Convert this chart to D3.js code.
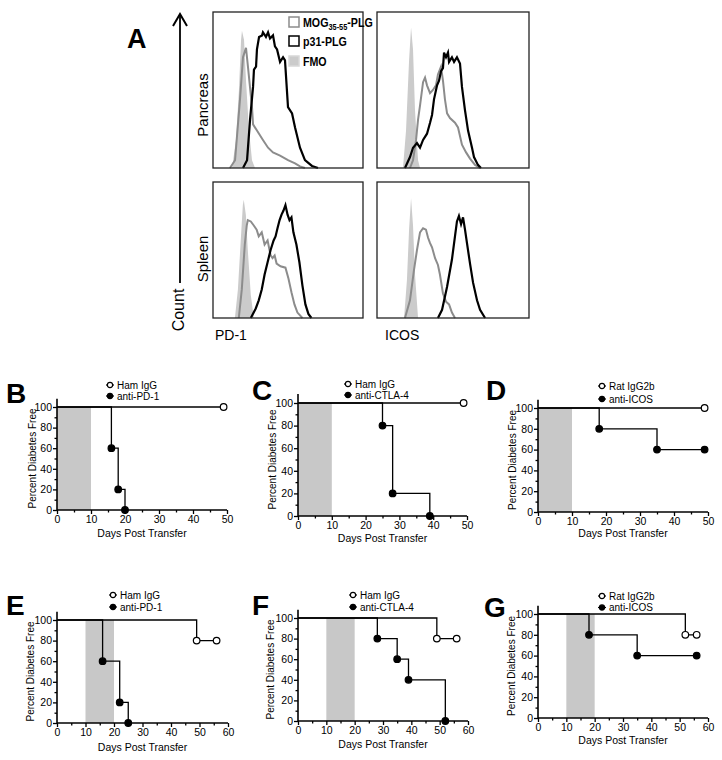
<!DOCTYPE html>
<html>
<head>
<meta charset="utf-8">
<script src="https://cdn.jsdelivr.net/npm/d3@7"></script>
<style>
  body { margin: 0; background: #fff; }
  svg { display: block; font-family: "Liberation Sans", Arial, sans-serif; }
</style>
</head>
<body>
<svg id="fig" width="722" height="760"></svg>
<script>
// Panel A histograms: [fluorescence channel, % of max]
const pancPd1Fmo = [[12.7,0],[15.3,18],[17.3,50],[18.7,82],[19.3,88],[20.7,82],[22,56],[24,24],[26,5],[28,0]];
const pancPd1Mog = [[11.3,0],[14.7,5],[18,44],[20,71],[22,77],[23.3,65],[26,39],[26.7,28],[29.3,24],[33.3,18],[36.7,13],[40,10],[44.7,8],[50,5],[54.7,3],[58,1],[61.3,0]];
const pancPd1P31 = [[20,0],[22.7,5],[24.7,31],[26.7,52],[27.3,63],[28.7,65],[29.3,76],[30.7,84],[32.7,85],[33.3,87],[35.3,84],[36.7,87],[38,83],[40,85],[41.3,78],[42.7,76],[44.7,68],[46.7,71],[48,69],[50,39],[52.7,35],[54.7,26],[58,13],[61.3,5],[66,1.3],[70,0]];

const pancIcosFmo = [[17.1,0],[19.1,24],[21.1,69],[22.4,90],[23.7,76],[25,37],[27,5],[28.3,0]];
const pancIcosMog = [[21.7,0],[23.7,5],[25.7,18],[27,31],[28.3,40],[30.3,55],[31.6,58],[32.9,53],[34.9,48],[36.8,50],[38.8,53],[40.1,60],[42.1,65],[43.4,56],[44.7,44],[46.1,35],[48,32],[51.3,29],[53.3,26],[55.9,15],[58.6,10],[61.2,6],[64.5,2],[67.8,0]];
const pancIcosP31 = [[18.4,0],[21.7,7],[23.7,13],[26.3,16],[28.3,13],[30.3,18],[32.9,22],[34.9,29],[36.2,34],[37.5,44],[39.5,53],[40.8,56],[42.1,62],[43.4,64],[44.1,74],[45.4,71],[46.7,74],[47.4,68],[49.3,71],[50.7,68],[52.6,71],[54.6,67],[55.9,52],[57.9,37],[59.9,24],[62.5,13],[63.8,7],[66.4,2],[68.4,0]];

const splPd1Fmo = [[14.6,0],[16.6,21],[18.5,57],[19.9,83],[20.5,87],[21.9,76],[23.2,50],[25.2,17],[27.2,0]];
const splPd1Mog = [[17.2,0],[19.2,21],[21.2,54],[22.5,68],[23.2,72],[25.2,71],[27.2,68],[29.1,65],[30.5,60],[32.5,63],[34.4,54],[36.4,57],[38.4,46],[39.7,44],[41.1,46],[42.4,40],[45,38],[48.3,37],[50.3,29],[52.3,19],[54.3,10],[56.3,4],[59.6,0]];
const splPd1P31 = [[25.2,0],[28.5,7],[30.5,13],[32.5,21],[34.4,32],[36.4,41],[38.4,50],[40.4,57],[41.7,60],[43,66],[44.4,72],[45.7,76],[47,79],[48.3,83],[49.7,76],[51,72],[52.3,74],[53.6,63],[55.6,54],[57.6,41],[59.6,24],[61.6,10],[63.6,3],[65.6,0]];

const splIcosFmo = [[17.8,0],[19.7,28],[21.1,65],[22.4,88],[23.7,68],[25,32],[27,0]];
const splIcosMog = [[18.4,0],[21.7,13],[24.3,35],[26.3,50],[28.3,63],[30.3,66],[32.2,65],[33.6,59],[34.9,55],[36.2,52],[38.2,44],[40.1,39],[41.4,32],[43.4,18],[45.4,12],[47.4,10],[49.3,4],[51.3,0]];
const splIcosP31 = [[40.1,0],[42.8,6],[46.1,23],[49.3,43],[51.3,60],[52.6,71],[53.9,75],[55.3,69],[56.6,74],[57.9,65],[59.2,55],[61.2,40],[63.2,26],[65.8,13],[67.8,6],[71.1,0]];

// Panels B-G survival steps: [day, percent diabetes free]
const bHamIgG = [[0,100],[49,100]];
const bAntiPd1 = [[0,100],[16,60],[18,20],[20,0]];
const cHamIgG = [[0,100],[49,100]];
const cAntiCtla4 = [[0,100],[25,80],[28,20],[39,0]];
const dRatIgG2b = [[0,100],[49,100]];
const dAntiIcos = [[0,100],[18,80],[35,60],[49,60]];
const eHamIgG = [[0,100],[49,80],[56,80]];
const eAntiPd1 = [[0,100],[16,60],[22,20],[25,0]];
const fHamIgG = [[0,100],[49,80],[56,80]];
const fAntiCtla4 = [[0,100],[28,80],[35,60],[39,40],[52,0]];
const gRatIgG2b = [[0,100],[52,80],[56,80]];
const gAntiIcos = [[0,100],[18,80],[35,60],[56,60]];

const percentTicks = [0, 20, 40, 60, 80, 100];
const dayTicks50 = [0, 10, 20, 30, 40, 50];
const dayTicks60 = [0, 10, 20, 30, 40, 50, 60];
const earlyWindow = [0, 10];
const lateWindow = [10, 20];

const svg = d3.select('#fig');
const gray = '#8c8c8c';
const fmoGray = '#cbcbcb';

// ---------- Panel A ----------
const drawHist = (arg) => {
  let x = d3.scaleLinear().domain([0, 100]).range([arg.left, arg.right]);
  let y = d3.scaleLinear().domain([0, 100]).range([arg.bottom, arg.top]);
  let g = svg.append('g');

  g.append('path')
    .attr('d', d3.area().x(d => x(d[0])).y0(y(0)).y1(d => y(d[1]))(arg.fmo))
    .style('fill', fmoGray);

  let line = d3.line().x(d => x(d[0])).y(d => y(d[1]));
  g.append('path')
    .attr('d', line(arg.mog))
    .style('fill', 'none')
    .style('stroke', gray)
    .style('stroke-width', 2);
  g.append('path')
    .attr('d', line(arg.p31))
    .style('fill', 'none')
    .style('stroke', '#000')
    .style('stroke-width', 2.2);

  g.append('rect')
    .attr('x', arg.left)
    .attr('y', arg.top)
    .attr('width', arg.right - arg.left)
    .attr('height', arg.bottom - arg.top)
    .style('fill', 'none')
    .style('stroke', '#222')
    .style('stroke-width', 1.3);
}

drawHist({left: 213, right: 363, top: 12, bottom: 168, fmo: pancPd1Fmo, mog: pancPd1Mog, p31: pancPd1P31});
drawHist({left: 377, right: 529, top: 12, bottom: 168, fmo: pancIcosFmo, mog: pancIcosMog, p31: pancIcosP31});
drawHist({left: 213, right: 363, top: 182, bottom: 318, fmo: splPd1Fmo, mog: splPd1Mog, p31: splPd1P31});
drawHist({left: 377, right: 529, top: 182, bottom: 318, fmo: splIcosFmo, mog: splIcosMog, p31: splIcosP31});

svg.append('text')
  .attr('x', 127).attr('y', 48)
  .style('font-size', '27px').style('font-weight', 'bold')
  .text('A');

// Count arrow
svg.append('line')
  .attr('x1', 180).attr('x2', 180).attr('y1', 15).attr('y2', 283)
  .style('stroke', '#000').style('stroke-width', 1.8);
svg.append('path')
  .attr('d', 'M173,26L180,14L187,26')
  .style('fill', 'none').style('stroke', '#000').style('stroke-width', 2);

const rotLabel = (text, x, y, size) => {
  svg.append('text')
    .attr('transform', `translate(${x},${y}) rotate(-90)`)
    .attr('text-anchor', 'middle')
    .style('font-size', size)
    .text(text);
}
rotLabel('Count', 184, 310, '16px');
rotLabel('Pancreas', 208, 105, '15px');
rotLabel('Spleen', 208, 259, '15px');

svg.append('text').attr('x', 215).attr('y', 340).style('font-size', '14px').text('PD-1');
svg.append('text').attr('x', 385).attr('y', 340).style('font-size', '14px').text('ICOS');

// histogram legend
const legendA = [
  {y: 17, stroke: gray, fill: '#fff'},
  {y: 36, stroke: '#000', fill: '#fff'},
  {y: 56, stroke: '#d8d8d8', fill: fmoGray}
];
legendA.forEach(d => {
  svg.append('rect')
    .attr('x', 289).attr('y', d.y).attr('width', 10).attr('height', 10)
    .style('fill', d.fill).style('stroke', d.stroke).style('stroke-width', 1.5);
});
const legendText = (y) => svg.append('text')
  .attr('transform', `translate(303,${y}) scale(0.82,1)`)
  .style('font-size', '13px').style('font-weight', 'bold');
let mogText = legendText(27);
mogText.append('tspan').text('MOG');
mogText.append('tspan').attr('dy', 3).style('font-size', '9px').text('35-55');
mogText.append('tspan').attr('dy', -3).text('-PLG');
legendText(46).text('p31-PLG');
legendText(66).text('FMO');

// ---------- Panels B-G ----------
const drawKM = (arg) => {
  let x = d3.scaleLinear().domain([0, arg.xMax]).range([arg.left, arg.right]);
  let y = d3.scaleLinear().domain([0, 100]).range([arg.bottom, arg.top]);
  let g = svg.append('g');

  g.append('rect')
    .attr('x', x(arg.shade[0]))
    .attr('y', y(100))
    .attr('width', x(arg.shade[1]) - x(arg.shade[0]))
    .attr('height', y(0) - y(100))
    .style('fill', '#c8c8c8');

  let step = d3.line().curve(d3.curveStepAfter).x(d => x(d[0])).y(d => y(d[1]));
  arg.series.forEach(s => {
    g.append('path')
      .attr('d', step(s.data))
      .style('fill', 'none')
      .style('stroke', '#000')
      .style('stroke-width', 1.3);
  });

  // axes, major + minor ticks
  g.append('g')
    .attr('transform', `translate(${arg.left},0)`)
    .call(d3.axisLeft(y).tickValues(percentTicks).tickSize(4).tickPadding(1));
  g.append('g')
    .attr('transform', `translate(${arg.left},0)`)
    .call(d3.axisLeft(y).tickValues(d3.range(10, 100, 20)).tickSize(2.5).tickFormat(''));
  g.append('g')
    .attr('transform', `translate(0,${arg.bottom})`)
    .call(d3.axisBottom(x).tickValues(arg.xTicks).tickSize(4).tickPadding(2));
  g.append('g')
    .attr('transform', `translate(0,${arg.bottom})`)
    .call(d3.axisBottom(x).tickValues(d3.range(5, arg.xMax, 10)).tickSize(2.5).tickFormat(''));

  g.selectAll('.domain').remove();
  g.selectAll('.tick line').style('stroke', '#000').style('stroke-width', 1.3);
  g.selectAll('.tick text')
    .style('font-size', '10.5px')
    .style('font-family', '"Liberation Sans", Arial, sans-serif')
    .style('fill', '#000');

  g.append('line')
    .attr('x1', arg.left).attr('x2', arg.left)
    .attr('y1', y(0)).attr('y2', y(108))
    .style('stroke', '#000').style('stroke-width', 1.6);
  g.append('line')
    .attr('x1', arg.left).attr('x2', x(arg.xMax))
    .attr('y1', y(0)).attr('y2', y(0))
    .style('stroke', '#000').style('stroke-width', 1.6);

  // markers at each step
  arg.series.forEach(s => {
    g.selectAll(null)
      .data(s.data.slice(1))
      .enter()
      .append('circle')
      .attr('cx', d => x(d[0]))
      .attr('cy', d => y(d[1]))
      .attr('r', 3.3)
      .style('fill', s.open ? '#fff' : '#000')
      .style('stroke', '#000')
      .style('stroke-width', 1.2);
  });

  // legend
  arg.series.forEach((s, i) => {
    let ly = arg.legend[1] + i * arg.legendGap;
    g.append('line')
      .attr('x1', arg.legend[0] - 4).attr('x2', arg.legend[0] + 4)
      .attr('y1', ly).attr('y2', ly)
      .style('stroke', '#000').style('stroke-width', 1.2);
    g.append('circle')
      .attr('cx', arg.legend[0]).attr('cy', ly).attr('r', 2.6)
      .style('fill', s.open ? '#fff' : '#000')
      .style('stroke', '#000').style('stroke-width', 1.1);
    g.append('text')
      .attr('x', arg.legend[0] + 7).attr('y', ly + 3.5)
      .style('font-size', '10px')
      .text(s.name);
  });

  g.append('text')
    .attr('transform', `translate(${arg.yLabelX},${(y(0) + y(100)) / 2}) rotate(-90)`)
    .attr('text-anchor', 'middle')
    .style('font-size', '10px')
    .text('Percent Diabetes Free');
  g.append('text')
    .attr('x', (x(0) + x(arg.xMax)) / 2).attr('y', arg.xLabelY)
    .attr('text-anchor', 'middle')
    .style('font-size', '10.5px')
    .text('Days Post Transfer');

  g.append('text')
    .attr('x', arg.letter[0]).attr('y', arg.letter[1])
    .style('font-size', '28px').style('font-weight', 'bold')
    .text(arg.letterText);
}

drawKM({letterText: 'B', letter: [6, 403], left: 57, right: 227, top: 407, bottom: 510,
  xMax: 50, xTicks: dayTicks50, shade: earlyWindow, legend: [110, 385], legendGap: 11,
  yLabelX: 36, xLabelY: 537,
  series: [{name: 'Ham IgG', open: true, data: bHamIgG}, {name: 'anti-PD-1', open: false, data: bAntiPd1}]});
drawKM({letterText: 'C', letter: [252, 400], left: 298, right: 467, top: 403, bottom: 516,
  xMax: 50, xTicks: dayTicks50, shade: earlyWindow, legend: [348, 384], legendGap: 11,
  yLabelX: 276, xLabelY: 542,
  series: [{name: 'Ham IgG', open: true, data: cHamIgG}, {name: 'anti-CTLA-4', open: false, data: cAntiCtla4}]});
drawKM({letterText: 'D', letter: [486, 400], left: 538, right: 708, top: 408, bottom: 512,
  xMax: 50, xTicks: dayTicks50, shade: earlyWindow, legend: [602, 386], legendGap: 13,
  yLabelX: 516, xLabelY: 537,
  series: [{name: 'Rat IgG2b', open: true, data: dRatIgG2b}, {name: 'anti-ICOS', open: false, data: dAntiIcos}]});
drawKM({letterText: 'E', letter: [6, 615], left: 57, right: 228, top: 620, bottom: 723,
  xMax: 60, xTicks: dayTicks60, shade: lateWindow, legend: [113, 595], legendGap: 12,
  yLabelX: 34, xLabelY: 751,
  series: [{name: 'Ham IgG', open: true, data: eHamIgG}, {name: 'anti-PD-1', open: false, data: eAntiPd1}]});
drawKM({letterText: 'F', letter: [252, 615], left: 298, right: 468, top: 618, bottom: 721,
  xMax: 60, xTicks: dayTicks60, shade: lateWindow, legend: [353, 595], legendGap: 12,
  yLabelX: 274, xLabelY: 748,
  series: [{name: 'Ham IgG', open: true, data: fHamIgG}, {name: 'anti-CTLA-4', open: false, data: fAntiCtla4}]});
drawKM({letterText: 'G', letter: [484, 617], left: 538, right: 708, top: 614, bottom: 718,
  xMax: 60, xTicks: dayTicks60, shade: lateWindow, legend: [602, 596], legendGap: 11.5,
  yLabelX: 515, xLabelY: 744,
  series: [{name: 'Rat IgG2b', open: true, data: gRatIgG2b}, {name: 'anti-ICOS', open: false, data: gAntiIcos}]});
</script>
</body>
</html>
